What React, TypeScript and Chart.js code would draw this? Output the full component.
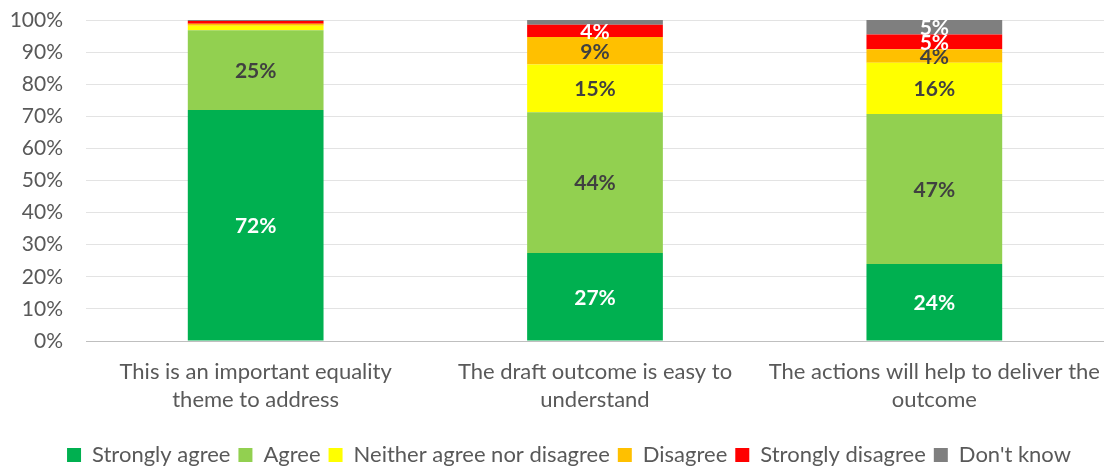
import React, { useEffect, useRef } from "react";
import { Chart, registerables } from "chart.js";

Chart.register(...registerables);

// Survey statements (x-axis categories), split over two lines
const categories: string[][] = [
  ["This is an important equality", "theme to address"],
  ["The draft outcome is easy to", "understand"],
  ["The actions will help to deliver the", "outcome"],
];

// Share of responses (%) per answer, one value per statement
const stronglyAgree = [72.0, 27.4, 24.0];
const agree = [24.8, 43.9, 46.7];
const neither = [1.4, 14.8, 16.0];
const disagree = [0.6, 8.6, 4.2];
const stronglyDisagree = [0.9, 3.8, 4.6];
const dontKnow = [0.3, 1.5, 4.5];

const yTicks = [0, 10, 20, 30, 40, 50, 60, 70, 80, 90, 100];

const FONT = "Lato, 'Open Sans', sans-serif";
const TEXT = "#595959";

// Writes the rounded percentage in the middle of each segment large enough to hold it
const segmentLabels = {
  id: "segmentLabels",
  afterDatasetsDraw(chart: any) {
    const { ctx } = chart;
    ctx.save();
    ctx.font = `bold 21px ${FONT}`;
    ctx.textAlign = "center";
    ctx.textBaseline = "middle";
    chart.data.datasets.forEach((ds: any, di: number) => {
      const meta = chart.getDatasetMeta(di);
      if (meta.hidden) return;
      meta.data.forEach((bar: any, i: number) => {
        const v = ds.data[i] as number;
        if (v < 3) return;
        const mid = (bar.y + bar.base) / 2;
        ctx.fillStyle = ds.labelColor;
        ctx.fillText(`${Math.round(v)}%`, bar.x, mid + 1);
      });
    });
    ctx.restore();
  },
};

// Nudges the legend row a little right and down, under the plot area
const legendOffset = {
  id: "legendOffset",
  afterLayout(chart: any) {
    const lg = chart.legend;
    if (!lg) return;
    lg.left += 17;
    lg.right += 17;
    lg.top += 8;
    lg.bottom += 8;
  },
};

export default function App() {
  const ref = useRef<HTMLCanvasElement>(null);

  useEffect(() => {
    if (!ref.current) return;
    const mk = (label: string, data: number[], color: string, labelColor: string) => ({
      label,
      data,
      backgroundColor: color,
      borderWidth: 0,
      labelColor,
      categoryPercentage: 1,
      barPercentage: 0.4,
    });
    const chart = new Chart(ref.current, {
      type: "bar",
      data: {
        labels: categories,
        datasets: [
          mk("Strongly agree", stronglyAgree, "#00b050", "#ffffff"),
          mk("Agree", agree, "#92d050", "#404040"),
          mk("Neither agree nor disagree", neither, "#ffff00", "#404040"),
          mk("Disagree", disagree, "#ffc000", "#404040"),
          mk("Strongly disagree", stronglyDisagree, "#ff0000", "#ffffff"),
          mk("Don't know", dontKnow, "#7f7f7f", "#ffffff"),
        ] as any,
      },
      options: {
        animation: false,
        responsive: false,
        maintainAspectRatio: false,
        layout: { padding: { top: 20, right: 1, bottom: 0, left: 0 } },
        plugins: {
          legend: {
            position: "bottom",
            labels: {
              color: TEXT,
              font: { family: FONT, size: 22 },
              boxWidth: 14,
              boxHeight: 14,
              padding: 8,
            },
          },
          tooltip: { enabled: false },
        },
        scales: {
          x: {
            stacked: true,
            grid: { display: false },
            border: { display: false },
            ticks: {
              color: TEXT,
              font: { family: FONT, size: 22, lineHeight: 1.27 },
              padding: 9,
              maxRotation: 0,
              autoSkip: false,
            },
            afterFit(scale: any) {
              scale.height = 87;
              scale.paddingLeft = 0;
              scale.paddingRight = 0;
            },
          },
          y: {
            stacked: true,
            min: 0,
            max: 100,
            afterBuildTicks(scale: any) {
              scale.ticks = yTicks.map((v) => ({ value: v }));
            },
            grid: {
              color: (c: any) => (c.tick && c.tick.value === 0 ? "#bfbfbf" : "#e3e3e3"),
              drawTicks: false,
              lineWidth: 1,
            },
            border: { display: false },
            ticks: {
              color: TEXT,
              font: { family: FONT, size: 21 },
              padding: 23,
              callback: (v: any) => `${v}%`,
            },
            afterFit(scale: any) {
              scale.width = 86;
              scale.paddingTop = 0;
              scale.paddingBottom = 0;
            },
          },
        },
      },
      plugins: [segmentLabels, legendOffset],
    });
    return () => chart.destroy();
  }, []);

  return (
    <div style={{ position: "absolute", left: 0, top: 0, width: 1105, height: 468, background: "#fff" }}>
      <canvas ref={ref} width={1105} height={468} style={{ width: 1105, height: 468 }} />
    </div>
  );
}
